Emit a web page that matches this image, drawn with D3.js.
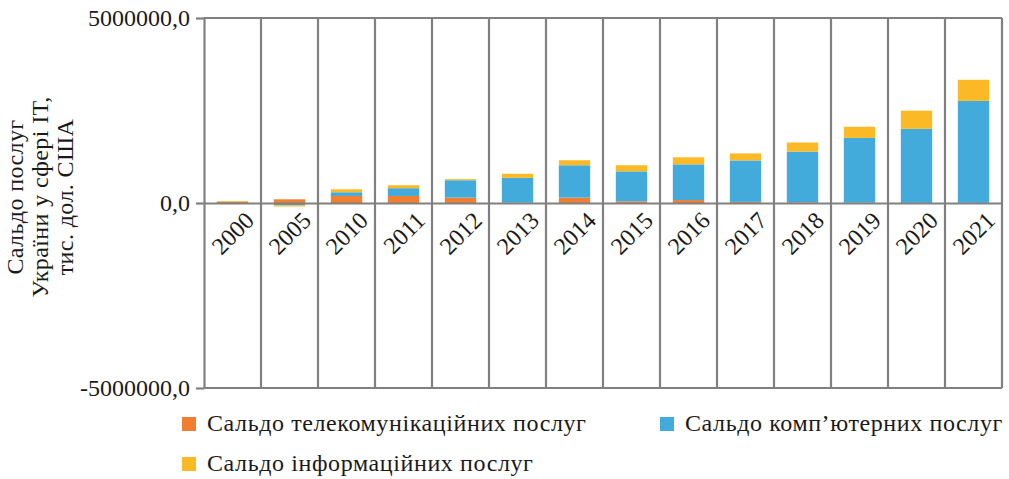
<!DOCTYPE html>
<html>
<head>
<meta charset="utf-8">
<style>
  body { margin: 0; background: #fff; }
  text { font-family: "Liberation Serif", "DejaVu Serif", serif; fill: #1a1a1a; }
</style>
</head>
<body>
<svg id="chart" width="1009" height="479"></svg>
<script src="https://cdnjs.cloudflare.com/ajax/libs/d3/7.8.5/d3.min.js"></script>
<script>

// chart data (thousand USD)
var years = ["2000", "2005", "2010", "2011", "2012", "2013", "2014", "2015", "2016", "2017", "2018", "2019", "2020", "2021"];
var telecom  = [30000, 100000, 190000, 190000, 145000, 10000, 145000, 45000, 80000, 30000, 20000, 10000, 5000, 5000];
var computer = [5000, -65000, 100000, 210000, 470000, 670000, 875000, 810000, 965000, 1120000, 1370000, 1750000, 2000000, 2755000];
var info     = [20000, -30000, 80000, 80000, 30000, 110000, 135000, 165000, 190000, 190000, 245000, 300000, 490000, 570000];
var seriesNames = ["Сальдо телекомунікаційних послуг", "Сальдо комп’ютерних послуг", "Сальдо інформаційних послуг"];
var yTicks = [-5000000, 0, 5000000];
var yTitle = ["Сальдо послуг", "України у сфері ІТ,", "тис. дол. США"];

var colors = ["#f07f31", "#42abdc", "#fbb925"];
var gridColor = "#808080";

var rows = years.map((y, i) => ({year: y, telecom: telecom[i], computer: computer[i], info: info[i]}));
var keys = ["telecom", "computer", "info"];

var svg = d3.select("#chart");

var x = d3.scaleBand()
	.domain(years)
	.range([204, 1002])
	.paddingInner(0.45)
	.paddingOuter(0.225);

var y = d3.scaleLinear()
	.domain([-5000000, 5000000])
	.range([388, 18]);

var stacked = d3.stack()
	.keys(keys)
	.offset(d3.stackOffsetDiverging)(rows);

// bars
svg.append("g").selectAll("g")
	.data(stacked)
  .enter().append("g")
	.attr("fill", (d, i) => colors[i])
  .selectAll("rect")
	.data(d => d)
  .enter().append("rect")
	.attr("x", d => x(d.data.year))
	.attr("width", x.bandwidth())
	.attr("y", d => y(Math.max(d[0], d[1])))
	.attr("height", d => Math.abs(y(d[0]) - y(d[1])));

// category separators and frame
var half = (x.step() - x.bandwidth()) / 2;
var bounds = years.map(d => x(d) - half).concat([x(years[years.length - 1]) + x.bandwidth() + half]);

svg.append("g").selectAll("line")
	.data(bounds.slice(1))
  .enter().append("line")
	.attr("x1", d => d).attr("x2", d => d)
	.attr("y1", y(5000000)).attr("y2", y(-5000000))
	.attr("stroke", gridColor)
	.attr("stroke-width", 2.2);

svg.append("g").selectAll("line")
	.data([5000000, -5000000])
  .enter().append("line")
	.attr("x1", bounds[0]).attr("x2", bounds[bounds.length - 1])
	.attr("y1", d => y(d)).attr("y2", d => y(d))
	.attr("stroke", gridColor)
	.attr("stroke-width", 2.2);

// y axis
var yAxis = svg.append("g")
	.attr("transform", "translate(" + bounds[0] + ",0)")
	.call(d3.axisLeft(y)
		.tickValues(yTicks)
		.tickSize(8)
		.tickSizeOuter(0)
		.tickPadding(6)
		.tickFormat(d => d3.format(".1f")(d).replace(".", ",").replace("−", "-")));
yAxis.selectAll("line, path").attr("stroke", gridColor).attr("stroke-width", 2.2);
yAxis.selectAll("text").attr("font-size", 24).attr("font-family", null).attr("fill", "#1a1a1a");

// x axis at zero
var xAxis = svg.append("g")
	.attr("transform", "translate(0," + y(0) + ")")
	.call(d3.axisBottom(x).tickSize(0).tickSizeOuter(0));
xAxis.select("path").attr("stroke", gridColor).attr("stroke-width", 2.2);
xAxis.selectAll("text")
	.attr("x", 0)
	.attr("y", 0)
	.attr("dy", 0)
	.attr("transform", "translate(23,19) rotate(-45)")
	.style("text-anchor", "end")
	.attr("font-size", 24)
	.attr("font-family", null)
	.attr("fill", "#1a1a1a");

// y title
svg.append("g").selectAll("text")
	.data(yTitle)
  .enter().append("text")
	.attr("transform", (d, i) => "translate(" + (23 + i * 25) + ",197) rotate(-90)")
	.attr("text-anchor", "middle")
	.attr("font-size", 24)
	.attr("letter-spacing", 0.4)
	.text(d => d);

// legend
var legendPos = [[182, 417], [660, 417], [182, 457]];
var legend = svg.append("g").selectAll("g")
	.data(seriesNames)
  .enter().append("g")
	.attr("transform", (d, i) => "translate(" + legendPos[i][0] + "," + legendPos[i][1] + ")");
legend.append("rect")
	.attr("width", 14)
	.attr("height", 14)
	.attr("fill", (d, i) => colors[i]);
legend.append("text")
	.attr("x", 25)
	.attr("y", 14)
	.attr("font-size", 24)
	.attr("letter-spacing", 0.6)
	.text(d => d);

</script>
</body>
</html>
